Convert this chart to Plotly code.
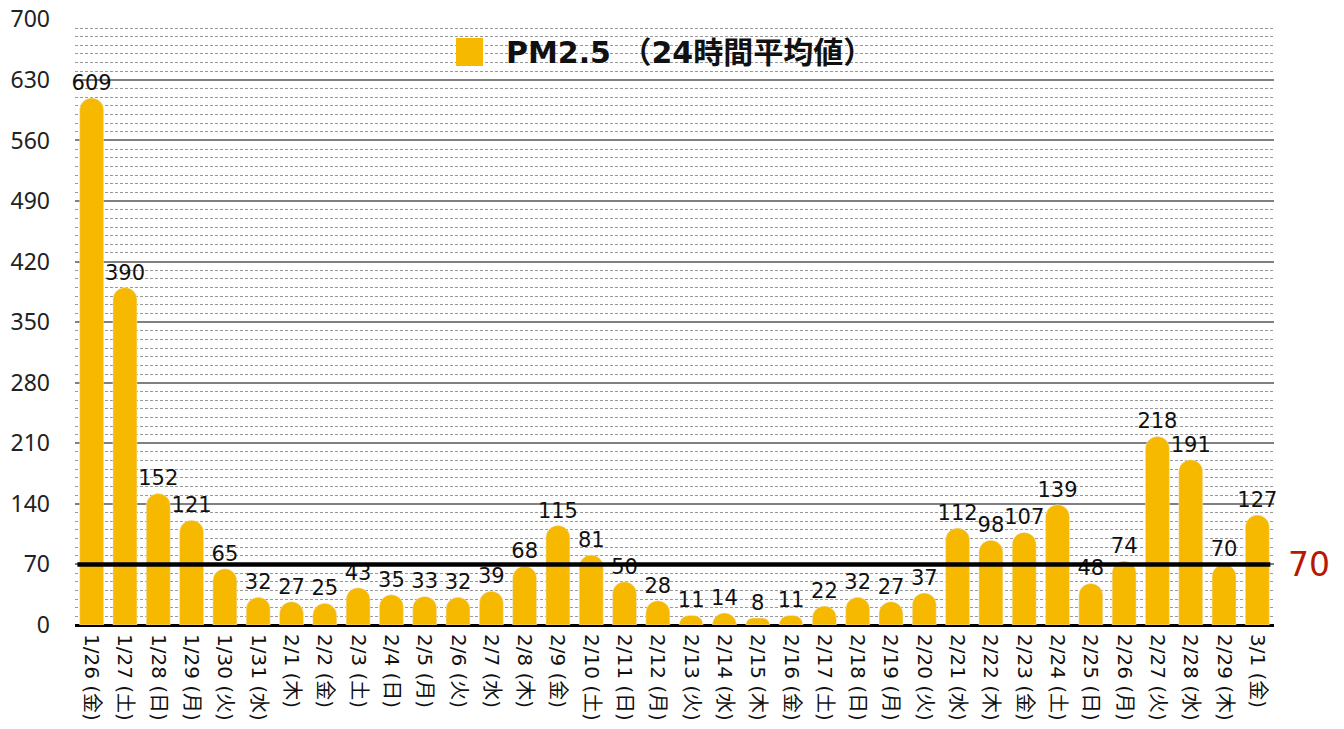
import plotly.graph_objects as go

dates = ["1/26 (金)", "1/27 (土)", "1/28 (日)", "1/29 (月)", "1/30 (火)", "1/31 (水)",
         "2/1 (木)", "2/2 (金)", "2/3 (土)", "2/4 (日)", "2/5 (月)", "2/6 (火)",
         "2/7 (水)", "2/8 (木)", "2/9 (金)", "2/10 (土)", "2/11 (日)", "2/12 (月)",
         "2/13 (火)", "2/14 (水)", "2/15 (木)", "2/16 (金)", "2/17 (土)", "2/18 (日)",
         "2/19 (月)", "2/20 (火)", "2/21 (水)", "2/22 (木)", "2/23 (金)", "2/24 (土)",
         "2/25 (日)", "2/26 (月)", "2/27 (火)", "2/28 (水)", "2/29 (木)", "3/1 (金)"]
pm25 = [609, 390, 152, 121, 65, 32, 27, 25, 43, 35, 33, 32, 39, 68, 115, 81, 50, 28,
        11, 14, 8, 11, 22, 32, 27, 37, 112, 98, 107, 139, 48, 74, 218, 191, 70, 127]
y_ticks = [0, 70, 140, 210, 280, 350, 420, 490, 560, 630, 700]
threshold = 70
series_name = "PM2.5 （24時間平均値）"

FONT = "DejaVu Sans, Noto Sans CJK JP"
BAR = "#F7B900"

W, H = 1344, 729
L, R, T, B = 75, 70, 19, 104
PW, PH = W - L - R, H - T - B


def px_x(page_x):
    return (page_x - L) / PW


def px_y(page_y):
    return (H - B - page_y) / PH


fig = go.Figure()
fig.add_trace(go.Bar(
    x=dates, y=pm25, name=series_name,
    marker=dict(color=BAR, cornerradius="50%"),
    text=pm25, textposition="outside", cliponaxis=False, constraintext="none",
    textfont=dict(size=21, color="#111111", family=FONT),
    showlegend=False,
))

fig.add_shape(type="line", xref="paper", yref="y", x0=0.002, x1=0.997,
              y0=threshold, y1=threshold, line=dict(color="black", width=4.5))
fig.add_annotation(xref="paper", yref="y", x=1, y=threshold, xanchor="left",
                   xshift=12, text=str(threshold), showarrow=False,
                   font=dict(size=33, color="#B51A00", family=FONT))

# legend drawn manually
fig.add_shape(type="rect", xref="paper", yref="paper",
              x0=px_x(456), x1=px_x(483), y0=px_y(66), y1=px_y(38),
              fillcolor=BAR, line=dict(width=0))
fig.add_annotation(xref="paper", yref="paper", x=px_x(504), y=px_y(52),
                   xanchor="left", yanchor="middle",
                   text="<b>" + series_name + "</b>", showarrow=False,
                   font=dict(size=30, color="#111111", family=FONT))

fig.update_layout(
    width=W, height=H,
    margin=dict(l=L, r=R, t=T, b=B),
    paper_bgcolor="white", plot_bgcolor="white",
    bargap=0.28,
    font=dict(family=FONT, color="#111111"),
    xaxis=dict(tickangle=90, tickfont=dict(size=20, family=FONT, color="#111111"),
               showline=False, ticks="", showgrid=False, automargin=False,
               ticklabelstandoff=8, ticklabeloverflow="allow"),
    yaxis=dict(range=[0, 700.4], tickmode="array", tickvals=y_ticks,
               tickfont=dict(size=23, family="Noto Sans", color="#222222"),
               showgrid=True, gridcolor="#808080", gridwidth=2,
               zeroline=True, zerolinecolor="black", zerolinewidth=3,
               ticklabelstandoff=24, automargin=False, ticklabeloverflow="allow",
               minor=dict(tick0=0, dtick=10, showgrid=True, gridcolor="#999999",
                          gridwidth=1, griddash="3px,2px")),
)

fig.write_html("out.html", config={"displayModeBar": False},
               post_script="document.body.style.margin='0';document.body.style.overflow='hidden';")
